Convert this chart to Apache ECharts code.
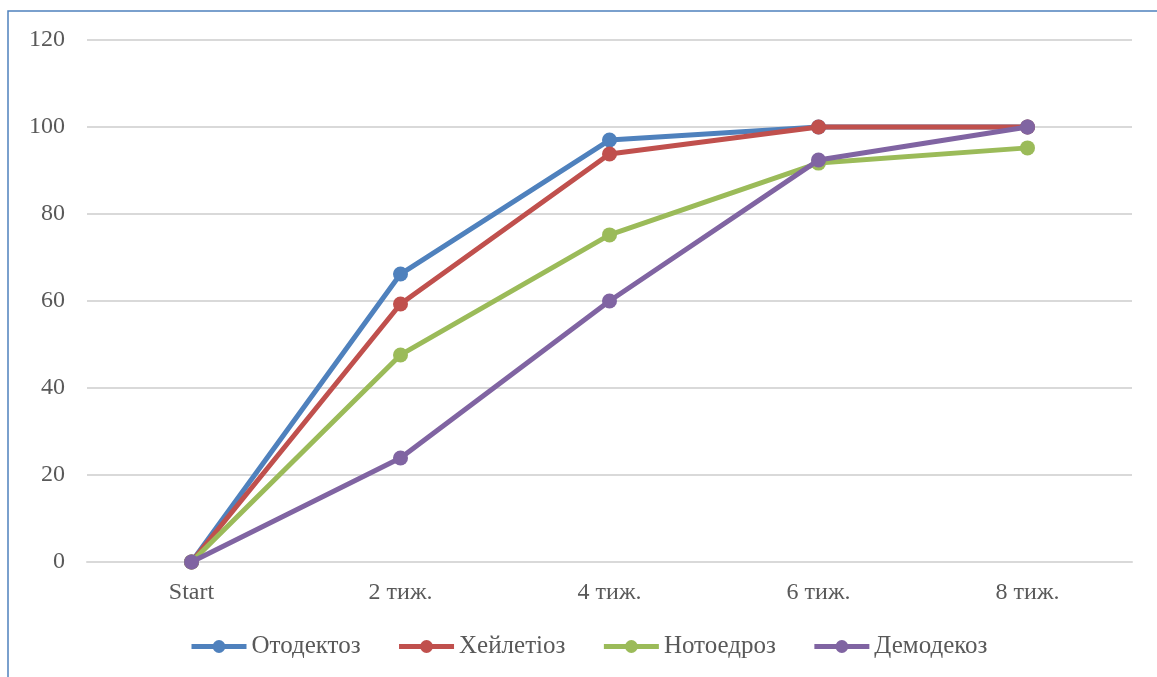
<!DOCTYPE html>
<html>
<head>
<meta charset="utf-8">
<script src="https://cdn.jsdelivr.net/npm/echarts@6/dist/echarts.min.js"></script>
<style>
  html, body { margin: 0; padding: 0; background: #fff; }
  #chart { width: 1157px; height: 677px; }
</style>
</head>
<body>
<div id="chart"></div>
<script>
// Weeks of treatment
const categories = ['Start', '2 тиж.', '4 тиж.', '6 тиж.', '8 тиж.'];

// Recovery share, %, per disease
const otodectosis = [0, 66.2, 97.0, 100, 100];
const cheyletiosis = [0, 59.3, 93.8, 100, 100];
const notoedrosis = [0, 47.6, 75.2, 91.7, 95.2];
const demodicosis = [0, 23.9, 60.0, 92.4, 100];

const seriesNames = ['Отодектоз', 'Хейлетіоз', 'Нотоедроз', 'Демодекоз'];
const seriesColors = ['#4F81BD', '#C0504D', '#9BBB59', '#8064A2'];
const seriesData = [otodectosis, cheyletiosis, notoedrosis, demodicosis];

const yTicks = { min: 0, max: 120, interval: 20 };

const textFont = '"Liberation Serif", "DejaVu Serif", serif';
const textColor = '#595959';

const chart = echarts.init(document.getElementById('chart'), null, { renderer: 'canvas' });

chart.setOption({
  animation: false,
  backgroundColor: '#ffffff',
  textStyle: { fontFamily: textFont, color: textColor },
  graphic: [{
    type: 'rect',
    shape: { x: 8, y: 11, width: 1170, height: 690 },
    style: { fill: 'none', stroke: '#4F81BD', lineWidth: 1.5 },
    silent: true,
    z: 100
  }],
  grid: { left: 87, right: 25, top: 40, bottom: 115, containLabel: false },
  legend: {
    data: seriesNames,
    top: 629,
    left: 184,
    itemWidth: 55,
    itemHeight: 16,
    itemGap: 36,
    lineStyle: { width: 5 },
    textStyle: { fontFamily: textFont, fontSize: 25, color: textColor }
  },
  xAxis: {
    type: 'category',
    data: categories,
    boundaryGap: true,
    axisLine: { show: true, lineStyle: { color: '#D9D9D9', width: 2 } },
    axisTick: { show: false },
    axisLabel: { fontFamily: textFont, fontSize: 24, color: textColor, margin: 19 }
  },
  yAxis: {
    type: 'value',
    min: yTicks.min,
    max: yTicks.max,
    interval: yTicks.interval,
    axisLine: { show: false },
    axisTick: { show: false },
    splitLine: { lineStyle: { color: '#D9D9D9', width: 2 } },
    axisLabel: { fontFamily: textFont, fontSize: 24, color: textColor, margin: 22 }
  },
  series: seriesNames.map((name, i) => ({
    name: name,
    type: 'line',
    data: seriesData[i],
    symbol: 'circle',
    symbolSize: 15,
    lineStyle: { width: 5, color: seriesColors[i] },
    itemStyle: { color: seriesColors[i] },
    z: 2 + i
  }))
});
</script>
</body>
</html>
